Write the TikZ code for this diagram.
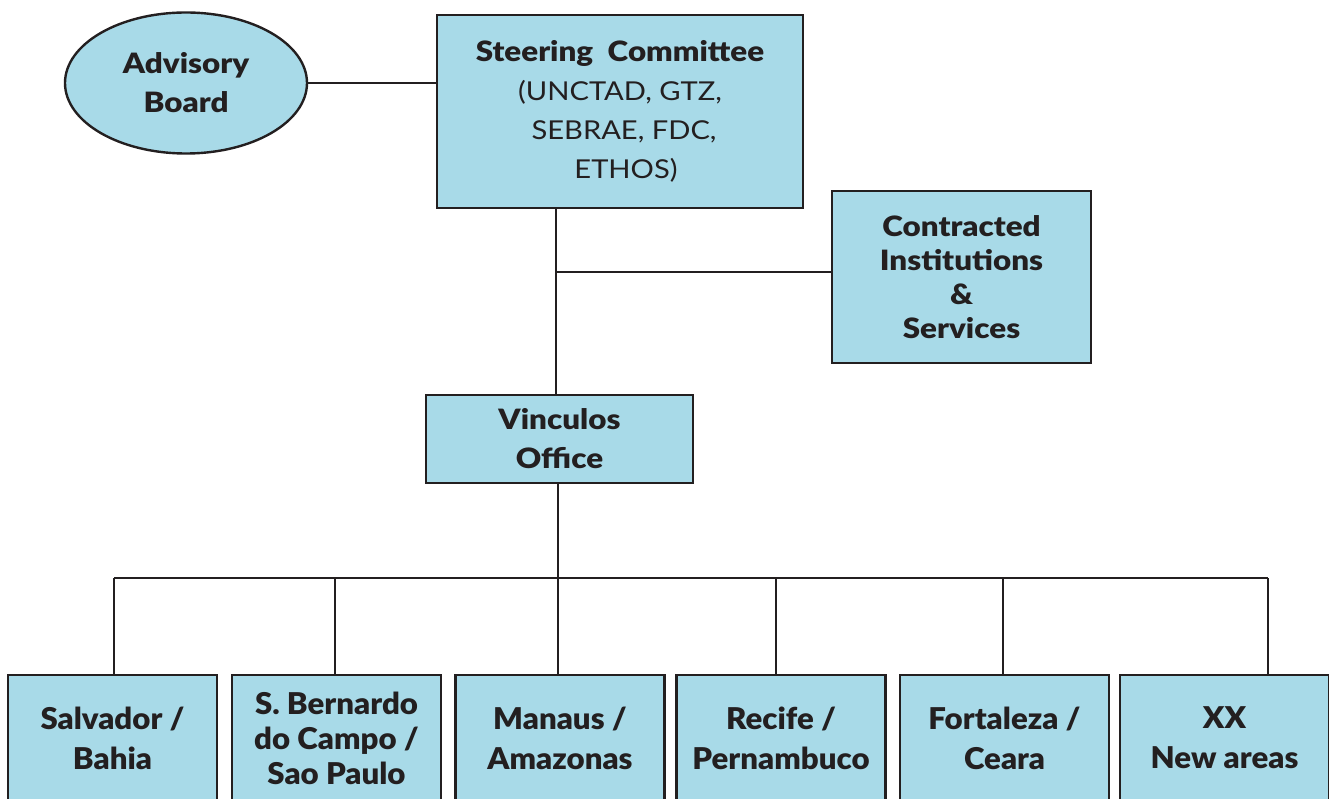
\documentclass[tikz,border=0pt]{standalone}
\usepackage{fontspec}
\setmainfont{Lato}[FakeStretch=1.12,BoldFont={Lato Black}]
\newfontfamily\regionfont{Lato}[FakeStretch=1.04,BoldFont={Lato Black}]
\usetikzlibrary{shapes.geometric}
\definecolor{boxblue}{RGB}{168,218,232}
\definecolor{inkline}{RGB}{35,31,32}
\tikzstyle{every node}=[font=\fontsize{28}{39}\selectfont\bfseries,text=inkline]
\tikzstyle{orgbox}=[draw=inkline,fill=boxblue,line width=2.4pt,align=center,inner sep=0pt]
\tikzstyle{oval}=[orgbox,ellipse]
\tikzstyle{region}=[orgbox,minimum width=209pt,minimum height=126pt,
          font=\regionfont\fontsize{30}{40}\selectfont\bfseries]
\tikzstyle{link}=[draw=inkline,line width=1.8pt]

\begin{document}
\begin{tikzpicture}[x=1pt,y=-1pt]
        \useasboundingbox (0,0) rectangle (1329,799);
        \clip (0,0) rectangle (1329,799);

        % top level
        \node[oval,minimum width=242pt,minimum height=141pt] (adv) at (186,83) {Advisory\\Board};
        \node[orgbox,minimum width=366pt,minimum height=193pt,
          font=\fontsize{26}{39}\selectfont] (steer) at (620,111.5)
          {{\bfseries\fontsize{28}{39}\selectfont Steering\ \ Committee}\\(UNCTAD, GTZ,\hspace*{20pt}\\\hspace*{8pt}SEBRAE, FDC,\\\hspace*{12pt}ETHOS)};
        \node[orgbox,minimum width=259pt,minimum height=172pt,
          font=\fontsize{28}{34}\selectfont\bfseries] (con) at (961.5,277)
          {Contracted\\Institutions\\\&\\Services};
        \node[orgbox,minimum width=267pt,minimum height=88pt] (vin) at (559.5,439) {Vinculos\\Office};

        % regions
        \node[region] (r1) at (112.5,738) {Salvador /\\Bahia};
        \node[region,font=\regionfont\fontsize{30}{35}\selectfont\bfseries] (r2) at (336.5,738)
          {S. Bernardo\\do Campo /\\Sao Paulo};
        \node[region] (r3) at (560,738) {Manaus /\\Amazonas};
        \node[region] (r4) at (781,738) {Recife /\\Pernambuco};
        \node[region] (r5) at (1004.5,738) {Fortaleza /\\Ceara};
        \node[region] (r6) at (1224.5,738) {XX\\New areas};

        % connectors
        \coordinate (tee) at (556,272);
        \coordinate (bus) at (558,578);
        \coordinate (d1) at (114,578);
        \coordinate (d2) at (335,578);
        \coordinate (d4) at (776,578);
        \coordinate (d5) at (1003,578);
        \coordinate (d6) at (1268,578);
        \draw[link] (adv.east) -- (adv.east -| steer.west);
        \draw[link] (steer.south -| tee) -- (vin.north -| tee);
        \draw[link] (tee) -- (tee -| con.west);
        \draw[link] (vin.south -| bus) -- (bus);
        \draw[link] (d1) -- (d6);
        \draw[link] (d1) -- (d1 |- r1.north);
        \draw[link] (d2) -- (d2 |- r2.north);
        \draw[link] (bus) -- (bus |- r3.north);
        \draw[link] (d4) -- (d4 |- r4.north);
        \draw[link] (d5) -- (d5 |- r5.north);
        \draw[link] (d6) -- (d6 |- r6.north);
\end{tikzpicture}
\end{document}
